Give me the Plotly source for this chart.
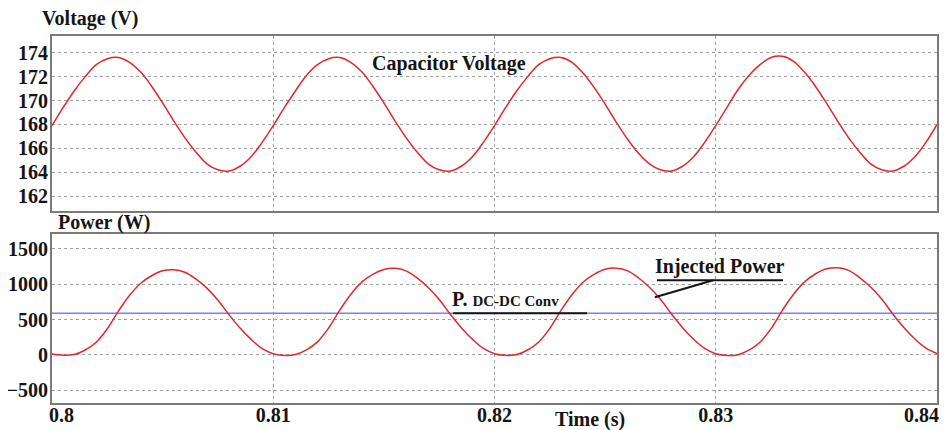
import numpy as np
import plotly.graph_objects as go
from plotly.subplots import make_subplots

# ---- data ----
t_start = 0.8
t_step = 0.0005
capacitor_voltage = [
    167.9, 169.4, 170.8, 172.0, 173.0, 173.5, 173.6, 173.2, 172.4, 171.2,
    169.8, 168.3, 166.9, 165.7, 164.7, 164.2, 164.1, 164.5, 165.3, 166.5,
    167.9, 169.4, 170.8, 172.1, 173.0, 173.5, 173.6, 173.2, 172.4, 171.2,
    169.8, 168.3, 166.9, 165.7, 164.7, 164.2, 164.1, 164.5, 165.3, 166.5,
    167.9, 169.4, 170.8, 172.0, 173.0, 173.5, 173.6, 173.2, 172.3, 171.1,
    169.7, 168.2, 166.8, 165.6, 164.7, 164.2, 164.1, 164.5, 165.3, 166.5,
    167.9, 169.4, 170.9, 172.1, 173.0, 173.6, 173.7, 173.3, 172.4, 171.2,
    169.8, 168.3, 166.9, 165.7, 164.7, 164.2, 164.1, 164.5, 165.3, 166.5,
    168.0,
]
injected_power = [
    12, -5, 5, 70, 180, 370, 620, 840, 1010, 1120,
    1190, 1205, 1170, 1075, 945, 775, 570, 380, 220, 90,
    18, -8, 5, 72, 185, 380, 630, 855, 1030, 1140,
    1210, 1225, 1190, 1090, 955, 785, 575, 385, 222, 92,
    18, -6, 5, 70, 182, 375, 628, 852, 1028, 1140,
    1212, 1228, 1192, 1092, 958, 788, 578, 386, 222, 92,
    16, -8, 4, 68, 180, 372, 626, 852, 1030, 1145,
    1218, 1232, 1196, 1095, 960, 790, 580, 388, 225, 95,
    18,
]
time = [round(t_start + i * t_step, 4) for i in range(len(capacitor_voltage))]
pdc_time = [0.8, 0.84]
pdc_power = [590, 590]

x_ticks = [0.8, 0.81, 0.82, 0.83, 0.84]
x_tick_labels = ["0.8", "0.81", "0.82", "0.83", "0.84"]
v_ticks = [162, 164, 166, 168, 170, 172, 174]
p_ticks = [-500, 0, 500, 1000, 1500]

SERIF = "Liberation Serif"
INK = "#151515"
RED = "#e0282c"
BLUE = "#7f7ff0"
FS = 20

fig = make_subplots(rows=2, cols=1, shared_xaxes=False, vertical_spacing=0.06)

fig.add_trace(go.Scatter(x=time, y=capacitor_voltage, mode="lines", line=dict(color=RED, width=1.5, shape="spline"),
                         showlegend=False), row=1, col=1)
fig.add_trace(go.Scatter(x=pdc_time, y=pdc_power, mode="lines", line=dict(color=BLUE, width=1.5),
                         showlegend=False), row=2, col=1)
fig.add_trace(go.Scatter(x=time, y=injected_power, mode="lines", line=dict(color=RED, width=1.5, shape="spline"),
                         showlegend=False), row=2, col=1)

axis_common = dict(showline=True, mirror=True, linecolor="#7a7a7a", linewidth=2,
                   showgrid=True, gridcolor="#a0a0a0", griddash="dot", gridwidth=1,
                   zeroline=False, ticks="", automargin=False,
                   tickfont=dict(family=SERIF, size=FS, color=INK, weight="bold"))

# middle x labels as tick labels; the two end labels as annotations (so they stay inside the page)
mid_text = [lab if 0 < i < len(x_tick_labels) - 1 else "" for i, lab in enumerate(x_tick_labels)]
fig.update_xaxes(range=[0.8, 0.84], tickvals=x_ticks, ticktext=mid_text, ticklabelstandoff=-7, **axis_common)
fig.update_xaxes(showticklabels=False, row=1, col=1)
fig.update_yaxes(ticklabelstandoff=-2, **axis_common)
fig.update_yaxes(range=[160.75, 175.4], tickvals=v_ticks, row=1, col=1)
fig.update_yaxes(range=[-680, 1711], tickvals=p_ticks, row=2, col=1)

# page body has an 8px margin, so the figure is 8px smaller than the window
fig.update_layout(
    width=939, height=422,
    margin=dict(l=44, r=10, t=28, b=27),
    paper_bgcolor="white", plot_bgcolor="white",
    xaxis=dict(domain=[0, 1]), xaxis2=dict(domain=[0, 1]),
    yaxis=dict(domain=[0.523, 1.0]), yaxis2=dict(domain=[0.0, 0.4605]),
)

bold = dict(family=SERIF, size=FS, color=INK, weight="bold")
fig.add_annotation(text=x_tick_labels[0], xref="x2", yref="paper", x=x_ticks[0], y=0, xshift=-5, yshift=-12,
                   xanchor="left", yanchor="middle", showarrow=False, font=bold)
fig.add_annotation(text=x_tick_labels[-1], xref="x2", yref="paper", x=x_ticks[-1], y=0, xshift=4, yshift=-12,
                   xanchor="right", yanchor="middle", showarrow=False, font=bold)

fig.add_annotation(text="Voltage (V)", xref="paper", yref="paper", x=-0.013, y=1.0, yshift=18,
                   xanchor="left", yanchor="middle", showarrow=False, font=bold)
fig.add_annotation(text="Power (W)", xref="paper", yref="paper", x=0.004, y=0.4605, yshift=11,
                   xanchor="left", yanchor="middle", showarrow=False, font=bold)
fig.add_annotation(text="Capacitor Voltage", xref="x", yref="y", x=0.81794, y=173.1,
                   xanchor="center", yanchor="middle", showarrow=False, font=bold)
fig.add_annotation(text="Time (s)", xref="paper", yref="paper", x=0.608, y=0, yshift=-16,
                   xanchor="center", yanchor="middle", showarrow=False, font=bold)
fig.add_annotation(text="Injected Power", xref="x2", yref="y2", x=0.83019, y=1254,
                   xanchor="center", yanchor="middle", showarrow=False, font=bold)
fig.add_annotation(text="P. <span style='font-size:15px'>DC-DC Conv</span>", xref="x2", yref="y2", x=0.81813, y=590,
                   xshift=-3, yshift=1, xanchor="left", yanchor="bottom", showarrow=False, font=bold)

# underline / leader lines
fig.add_shape(type="line", xref="x2", yref="y2", x0=0.81813, x1=0.82418, y0=590, y1=590, line=dict(color=INK, width=2))
fig.add_shape(type="line", xref="x2", yref="y2", x0=0.82734, x1=0.83304, y0=1056, y1=1056, line=dict(color=INK, width=2))
fig.add_shape(type="line", xref="x2", yref="y2", x0=0.82988, x1=0.82725, y0=1056, y1=817, line=dict(color=INK, width=2))

fig.write_html("out.html")
